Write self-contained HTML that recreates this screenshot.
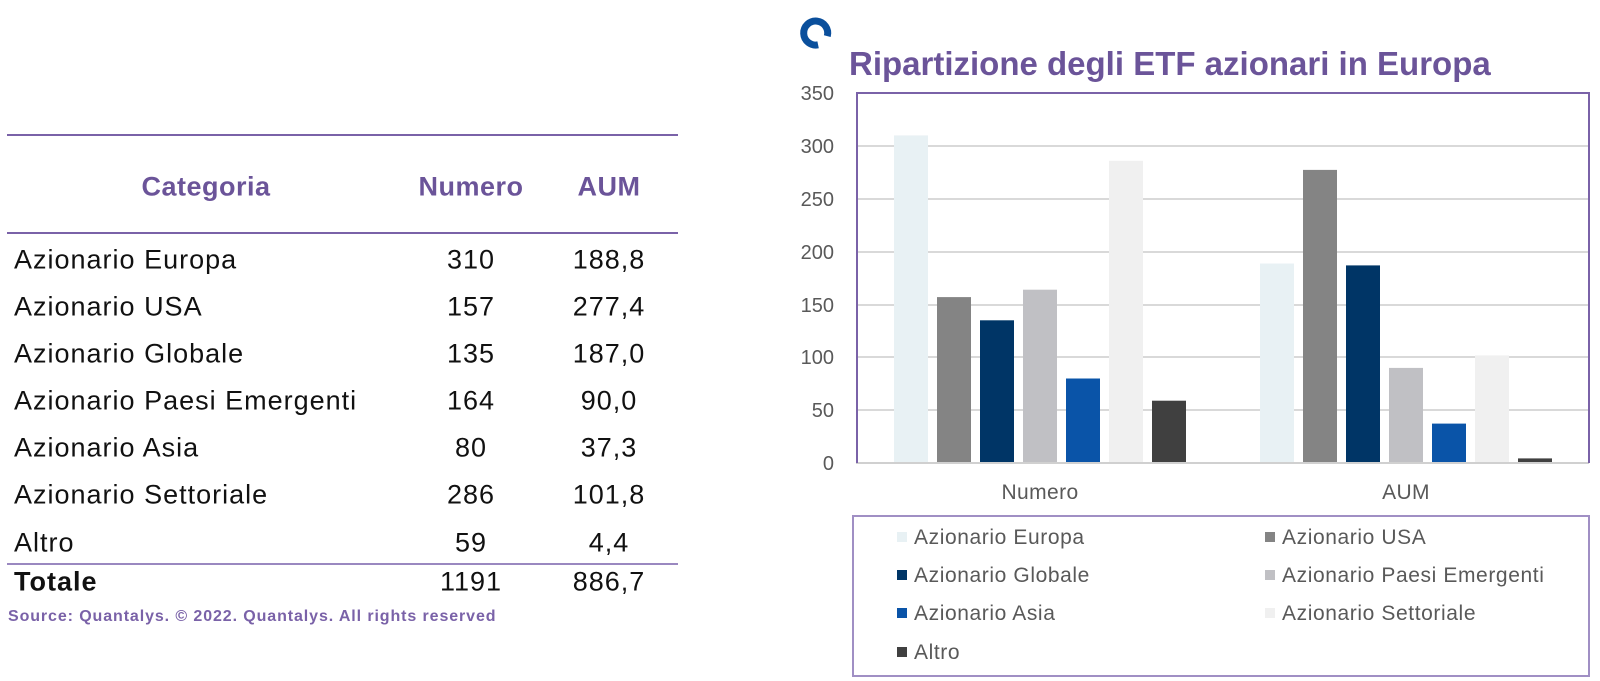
<!DOCTYPE html>
<html><head><meta charset="utf-8"><style>
body{margin:0;width:1600px;height:681px;background:#fff;overflow:hidden;position:relative;font-family:"Liberation Sans",sans-serif}
.a{position:absolute;white-space:nowrap}
.r{font-size:27px;letter-spacing:1px;color:#111;transform:translateY(-50%)}
.c{transform:translate(-50%,-50%)}
.h{font-weight:bold;color:#6b5499;font-size:27px;letter-spacing:0.5px}
.line{position:absolute;height:2px;background:#7a62a8}
</style></head><body>
<div class="line" style="left:7px;top:134px;width:671px"></div>
<div class="line" style="left:7px;top:232px;width:671px"></div>
<div class="line" style="left:7px;top:563px;width:671px;background:#9a88c0"></div>
<div class="a h c" style="left:206px;top:187px">Categoria</div>
<div class="a h c" style="left:471px;top:187px">Numero</div>
<div class="a h c" style="left:609px;top:187px">AUM</div>

<div class="a r" style="left:14px;top:260px">Azionario Europa</div><div class="a r c" style="left:471px;top:260px">310</div><div class="a r c" style="left:609px;top:260px">188,8</div>
<div class="a r" style="left:14px;top:307px">Azionario USA</div><div class="a r c" style="left:471px;top:307px">157</div><div class="a r c" style="left:609px;top:307px">277,4</div>
<div class="a r" style="left:14px;top:354px">Azionario Globale</div><div class="a r c" style="left:471px;top:354px">135</div><div class="a r c" style="left:609px;top:354px">187,0</div>
<div class="a r" style="left:14px;top:401px">Azionario Paesi Emergenti</div><div class="a r c" style="left:471px;top:401px">164</div><div class="a r c" style="left:609px;top:401px">90,0</div>
<div class="a r" style="left:14px;top:448px">Azionario Asia</div><div class="a r c" style="left:471px;top:448px">80</div><div class="a r c" style="left:609px;top:448px">37,3</div>
<div class="a r" style="left:14px;top:495px">Azionario Settoriale</div><div class="a r c" style="left:471px;top:495px">286</div><div class="a r c" style="left:609px;top:495px">101,8</div>
<div class="a r" style="left:14px;top:543px">Altro</div><div class="a r c" style="left:471px;top:543px">59</div><div class="a r c" style="left:609px;top:543px">4,4</div>
<div class="a r" style="left:14px;top:582px;font-weight:bold">Totale</div><div class="a r c" style="left:471px;top:582px">1191</div><div class="a r c" style="left:609px;top:582px">886,7</div>
<div class="a" style="left:8px;top:608px;font-size:16px;letter-spacing:0.9px;font-weight:bold;color:#7a62a8">Source: Quantalys. © 2022. Quantalys. All rights reserved</div>

<svg class="a" style="left:0;top:0" width="1600" height="681" font-family="Liberation Sans, sans-serif">
<path d="M827.3 36.1 A12 12 0 1 0 818.1 44.8" fill="none" stroke="#0a4f9c" stroke-width="7"/>
<text x="849" y="75" font-size="33" font-weight="bold" fill="#6b5499">Ripartizione degli ETF azionari in Europa</text>
<g stroke="#d9d9d9" stroke-width="2">
<line x1="856" x2="1589" y1="146" y2="146"/><line x1="856" x2="1589" y1="199" y2="199"/><line x1="856" x2="1589" y1="252" y2="252"/><line x1="856" x2="1589" y1="305" y2="305"/><line x1="856" x2="1589" y1="357" y2="357"/><line x1="856" x2="1589" y1="410" y2="410"/>
</g>
<g font-size="20" fill="#595959" text-anchor="end">
<text x="834" y="100">350</text><text x="834" y="153">300</text><text x="834" y="206">250</text><text x="834" y="259">200</text><text x="834" y="312">150</text><text x="834" y="364">100</text><text x="834" y="417">50</text><text x="834" y="470">0</text>
</g>
<g>
<rect x="894" y="135.4" width="34" height="327.6" fill="#e8f1f4"/>
<rect x="937" y="297.1" width="34" height="165.9" fill="#848484"/>
<rect x="980" y="320.3" width="34" height="142.7" fill="#003566"/>
<rect x="1023" y="289.7" width="34" height="173.3" fill="#c0c0c4"/>
<rect x="1066" y="378.5" width="34" height="84.5" fill="#0a54a8"/>
<rect x="1109" y="160.8" width="34" height="302.2" fill="#f0f0f0"/>
<rect x="1152" y="400.7" width="34" height="62.3" fill="#404040"/>
<rect x="1260" y="263.5" width="34" height="199.5" fill="#e8f1f4"/>
<rect x="1303" y="169.9" width="34" height="293.1" fill="#848484"/>
<rect x="1346" y="265.4" width="34" height="197.6" fill="#003566"/>
<rect x="1389" y="367.9" width="34" height="95.1" fill="#c0c0c4"/>
<rect x="1432" y="423.6" width="34" height="39.4" fill="#0a54a8"/>
<rect x="1475" y="355.4" width="34" height="107.6" fill="#f0f0f0"/>
<rect x="1518" y="458.4" width="34" height="4.6" fill="#404040"/>
</g>
<line x1="856" x2="1589" y1="463" y2="463" stroke="#d0d0d0" stroke-width="2"/>
<path d="M857 463 V93 H1589 V463" fill="none" stroke="#7a62a8" stroke-width="2"/>
<g font-size="21" letter-spacing="0.4" fill="#595959" text-anchor="middle"><text x="1040" y="499">Numero</text><text x="1406" y="499">AUM</text></g>
<rect x="853" y="516" width="736" height="160" fill="none" stroke="#a08fc4" stroke-width="2"/>
<g font-size="21" letter-spacing="0.6" fill="#595959">
<rect x="897" y="532" width="10" height="10" fill="#e8f1f4"/><text x="914" y="544">Azionario Europa</text>
<rect x="1265" y="532" width="10" height="10" fill="#848484"/><text x="1282" y="544">Azionario USA</text>
<rect x="897" y="570" width="10" height="10" fill="#003566"/><text x="914" y="582">Azionario Globale</text>
<rect x="1265" y="570" width="10" height="10" fill="#c0c0c4"/><text x="1282" y="582">Azionario Paesi Emergenti</text>
<rect x="897" y="608" width="10" height="10" fill="#0a54a8"/><text x="914" y="620">Azionario Asia</text>
<rect x="1265" y="608" width="10" height="10" fill="#f0f0f0"/><text x="1282" y="620">Azionario Settoriale</text>
<rect x="897" y="647" width="10" height="10" fill="#404040"/><text x="914" y="659">Altro</text>
</g>
</svg>
</body></html>
